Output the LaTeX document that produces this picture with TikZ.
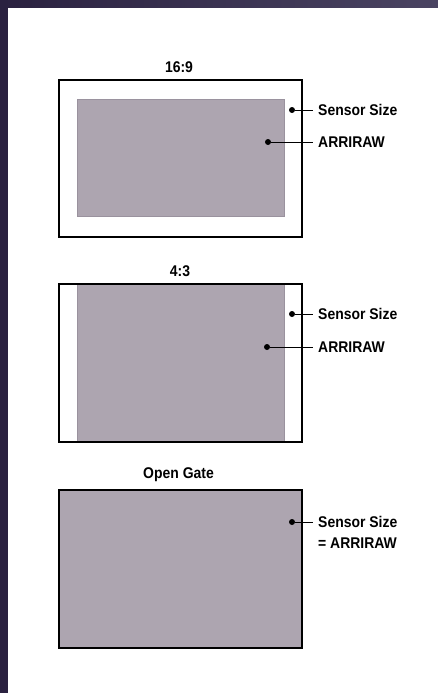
\documentclass[tikz,border=0pt]{standalone}
\usepackage{fontspec}
\setmainfont{Liberation Sans}[FakeStretch=0.9]
\definecolor{gatefill}{HTML}{ADA5B0}
\definecolor{gateedge}{HTML}{9A929E}
\definecolor{banddark}{HTML}{2A2140}
\definecolor{bandlight}{HTML}{4A4462}
\tikzset{
  frame/.style={draw=black, line width=1.2pt},
  sensor/.style={fill=gatefill, draw=gateedge, line width=0.8pt},
  title/.style={font=\bfseries\fontsize{15.5}{18}\selectfont, anchor=base},
  lbl/.style={font=\bfseries\fontsize{15.5}{18}\selectfont, anchor=west, inner sep=0pt},
  lead/.style={line width=1pt},
  dotmark/.style={circle, fill=black, inner sep=0pt, minimum size=6pt}
}
\begin{document}
\begin{tikzpicture}[x=1pt,y=-1pt]
\useasboundingbox (0,0) rectangle (438,693);
\fill[white] (0,0) rectangle (438,693);
% bands
\shade[left color=banddark, right color=bandlight] (0,0) rectangle (438,8);
\fill[banddark] (0,0) rectangle (8,693);
% 16:9
\node[title] (t1) at (179,73) {16:9};
\draw[frame] (59,80) rectangle (302,237);
\draw[sensor] (77,99) rectangle (284,216);
\node[dotmark] (d1a) at (292,110) {};
\node[dotmark] (d1b) at (268,142) {};
\coordinate (e1a) at (313,110);
\coordinate (e1b) at (313,142);
\node[lbl] (l1a) at (318,110) {Sensor Size};
\node[lbl] (l1b) at (318,142) {ARRIRAW};
\draw[lead] (d1a) -- (e1a);
\draw[lead] (d1b) -- (e1b);
% 4:3
\node[title] (t2) at (180,276) {4:3};
\draw[sensor] (77,284) rectangle (284,441);
\draw[frame] (59,284) rectangle (302,442);
\node[dotmark] (d2a) at (292,314) {};
\node[dotmark] (d2b) at (267,347) {};
\coordinate (e2a) at (313,314);
\coordinate (e2b) at (313,347);
\node[lbl] (l2a) at (318,314) {Sensor Size};
\node[lbl] (l2b) at (318,347) {ARRIRAW};
\draw[lead] (d2a) -- (e2a);
\draw[lead] (d2b) -- (e2b);
% Open Gate
\node[title] (t3) at (178.5,478) {Open Gate};
\draw[sensor, draw=black, line width=1.2pt] (59,490) rectangle (302,648);
\node[dotmark] (d3) at (292,522) {};
\coordinate (e3) at (313,522);
\node[lbl] (l3a) at (318,522) {Sensor Size};
\node[lbl] (l3b) at (318,543) {= ARRIRAW};
\draw[lead] (d3) -- (e3);
\end{tikzpicture}
\end{document}
